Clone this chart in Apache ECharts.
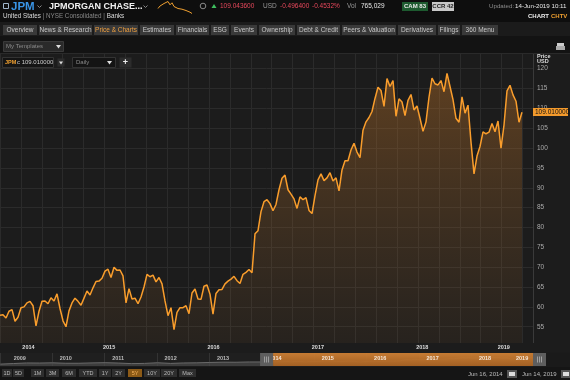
<!DOCTYPE html>
<html><head><meta charset="utf-8">
<script src="https://cdn.jsdelivr.net/npm/echarts@6/dist/echarts.min.js"></script>
<style>html,body{margin:0;padding:0;background:#1c1c1c;overflow:hidden}#c{width:570px;height:380px;}</style>
</head><body><div id="c"></div>
<script>
const FONT = '"Liberation Sans", Arial, Helvetica, sans-serif';

// ---------- DATA ----------
const startYear = 2014.455;   // Jun 16, 2014
const endYear = 2019.455;     // Jun 14, 2019
const prices = [
57.9, 58.0, 57.2, 58.9, 59.3, 56.4, 57.4, 59.8, 60.0, 61.0,
61.4, 60.3, 55.2, 58.9, 61.4, 61.5, 60.8, 62.3, 61.5, 63.3,
59.6, 56.5, 55.0, 59.0, 61.0, 62.2, 61.4, 60.4, 62.2, 64.0,
63.0, 64.8, 66.4, 66.5, 67.2, 69.0, 69.5, 67.4, 70.0, 69.2,
69.3, 67.8, 61.0, 64.6, 62.0, 62.2, 60.8, 62.5, 65.0, 68.2,
67.6, 68.0, 66.3, 67.4, 65.8, 61.5, 57.8, 59.8, 54.3, 58.6,
59.8, 59.8, 60.3, 58.3, 63.5, 64.5, 62.0, 61.9, 65.2, 65.5,
63.2, 58.2, 63.4, 64.3, 64.4, 65.8, 66.5, 67.0, 67.7, 66.6,
65.9, 68.2, 68.7, 69.4, 68.6, 78.4, 79.2, 84.0, 86.5, 87.0,
86.0, 84.2, 85.8, 89.5, 92.4, 93.2, 89.5, 88.4, 87.2, 84.8,
87.7, 87.0, 87.5, 84.3, 83.5, 88.0, 92.0, 93.5, 91.8, 92.5,
93.8, 91.7, 92.5, 89.2, 94.5, 96.8, 96.8, 99.5, 101.2, 99.0,
97.6, 104.5, 106.6, 107.7, 109.2, 112.5, 115.3, 114.5, 110.5, 117.5,
115.5, 117.0, 108.0, 112.4, 111.6, 108.2, 112.0, 113.5, 109.6, 110.6,
107.5, 104.2, 106.6, 112.8, 117.6, 116.2, 115.9, 117.0, 114.2, 118.8,
115.5, 112.2, 107.5, 106.5, 112.9, 108.8, 110.8, 101.5, 93.5, 98.0,
100.4, 104.1, 103.6, 104.0, 106.2, 104.1, 106.8, 100.0, 105.8, 114.4,
115.8, 113.4, 111.8, 106.5, 109.01
];
const lastPriceText = '109.010000';
const yearLabels = [2014, 2015, 2016, 2017, 2018, 2019];

const navYears  = [2009.25, 2009.5, 2009.75, 2010.0, 2010.25, 2010.5, 2010.75, 2011.0, 2011.25, 2011.5, 2011.75, 2012.0, 2012.25, 2012.5, 2012.75, 2013.0, 2013.25, 2013.5, 2013.75, 2014.0, 2014.25, 2014.45];
const navValues = [26, 34, 42, 41, 44, 38, 38, 43, 46, 41, 33, 36, 45, 36, 42, 44, 49, 53, 52, 56, 56, 58];
const navYearLabels = [2009, 2010, 2011, 2012, 2013, 2014, 2015, 2016, 2017, 2018, 2019];

const sparkValues = [109.35, 109.60, 109.50, 109.85, 109.70, 110.05, 109.72, 109.92, 109.55, 109.70, 109.35, 109.52, 109.28, 109.40, 109.15, 109.25, 108.98, 108.85];

const tabs = [['Overview',3,37],['News & Research',39,92],['Price & Charts',94,138],['Estimates',140,174],['Financials',176,209],['ESG',211,229],['Events',231,257],['Ownership',259,295],['Debt & Credit',297,340],['Peers & Valuation',342,396],['Derivatives',398,436],['Filings',438,460],['360 Menu',462,498]];
const rangeButtons = [['1D',2,12],['5D',13,24],['1M',31,44],['3M',46,59],['6M',62,76],['YTD',79,97],['1Y',99,111],['2Y',112,125],['5Y',128,142],['10Y',144,160],['20Y',161,177],['Max',179,196]];

// ---------- CHART ----------
const step = (endYear - startYear) / (prices.length - 1);
const mainData = prices.map((v, i) => [startYear + i * step, v]);
const mainMax = startYear + (533 / 522) * (endYear - startYear);
const navData = navYears.map((y, i) => [y, navValues[i]]).concat(mainData);
const navMin = 2009.244, navMax = navMin + 533 / 52.4;

const chart = echarts.init(document.getElementById('c'), null, {renderer: 'canvas'});
const grid = '#2b2b2b';
chart.setOption({
  animation: false,
  backgroundColor: '#1c1c1c',
  grid: [
    {left: 0, right: 37, top: 48.8, height: 297.8},
    {left: 0, right: 37, top: 353, height: 13, show: true, backgroundColor: '#1f1f1f', borderWidth: 0},
    {left: 158, top: 1.5, width: 34, height: 12}
  ],
  xAxis: [
    {type: 'value', gridIndex: 0, min: startYear, max: mainMax, show: false},
    {type: 'value', gridIndex: 0, min: 4.2, max: 537.2, interval: 20.9, position: 'top',
     axisLine: {show: false}, axisTick: {show: false}, axisLabel: {show: false},
     splitLine: {show: true, lineStyle: {color: grid, width: 1}}},
    {type: 'value', gridIndex: 1, min: navMin, max: navMax, interval: 1,
     axisLine: {show: false}, axisTick: {show: false}, axisLabel: {show: false},
     splitLine: {show: true, lineStyle: {color: '#333', width: 1}}},
    {type: 'category', gridIndex: 2, show: false, boundaryGap: false, data: sparkValues.map((v, i) => i)}
  ],
  yAxis: [
    {type: 'value', gridIndex: 0, position: 'right', min: 50, max: 125, interval: 5,
     axisLine: {show: true, lineStyle: {color: '#3a3a3a'}}, axisTick: {show: false},
     axisLabel: {color: '#aaaaaa', fontSize: 6.5, fontFamily: FONT, margin: 4, showMinLabel: false, showMaxLabel: false},
     splitLine: {show: true, lineStyle: {color: grid, width: 1}}},
    {type: 'value', gridIndex: 1, min: 0, max: 180, show: false},
    {type: 'value', gridIndex: 2, show: false, min: 'dataMin', max: 'dataMax'}
  ],
  series: [
    {type: 'line', xAxisIndex: 0, yAxisIndex: 0, data: mainData, symbol: 'none', z: 5,
     lineStyle: {color: '#f99d2c', width: 1.5},
     areaStyle: {color: {type: 'linear', x: 0, y: 0, x2: 0, y2: 1, colorStops: [
       {offset: 0, color: 'rgba(200,120,40,0.55)'}, {offset: 1, color: 'rgba(150,100,50,0.12)'}]}}},
    {type: 'line', xAxisIndex: 2, yAxisIndex: 1, data: navData, symbol: 'none',
     lineStyle: {color: '#6a6a6a', width: 1}, areaStyle: {color: '#4a4a4a'}},
    {type: 'line', xAxisIndex: 3, yAxisIndex: 2, data: sparkValues, symbol: 'none', z: 5,
     lineStyle: {color: '#f0a030', width: 1}}
  ]
});

// ---------- CHROME ----------
function R(x, y, w, h, fill, stroke, z) {
  return {type: 'rect', silent: true, z: z || 100, shape: {x, y, width: w, height: h},
    style: {fill: fill, stroke: stroke || null, lineWidth: stroke ? 1 : 0}};
}
function T(x, y, text, fill, size, o) {
  return {type: 'text', silent: true, z: 102, x, y,
    style: Object.assign({text: String(text), fill, fontSize: size, fontFamily: FONT, align: 'left', verticalAlign: 'middle'}, o || {})};
}
function P(points, fill, z) { return {type: 'polygon', silent: true, z: z || 102, shape: {points}, style: {fill}}; }
function L(x1, y1, x2, y2, stroke, z) { return {type: 'line', silent: true, z: z || 101, shape: {x1, y1, x2, y2}, style: {stroke, lineWidth: 1}}; }

const g = [];
// header (background below the sparkline series)
g.push(R(0, 0, 570, 22, '#0e0e0e', null, 1));
g.push(R(3.5, 3.5, 5, 5, null, '#9fb4c8'));
g.push(T(11, 6.5, 'JPM', '#3a95e6', 11.5, {fontWeight: 'bold'}));
g.push({type: 'polyline', z: 102, silent: true, shape: {points: [[37.5, 5.5], [39.5, 7.5], [41.5, 5.5]]}, style: {stroke: '#888', lineWidth: 1, fill: null}});
g.push(T(49, 6.5, 'JPMORGAN CHASE...', '#f2f2f2', 9, {fontWeight: 'bold'}));
g.push({type: 'polyline', z: 102, silent: true, shape: {points: [[143.5, 5.5], [145.5, 7.5], [147.5, 5.5]]}, style: {stroke: '#888', lineWidth: 1, fill: null}});
g.push({type: 'circle', z: 102, silent: true, shape: {cx: 203, cy: 6, r: 2.8}, style: {stroke: '#888', fill: null, lineWidth: 1}});
g.push(P([[211.5, 8], [214, 4], [216.5, 8]], '#3fbf5f'));
g.push(T(220, 6.5, '109.043600', '#e8485c', 6.5));
g.push(T(263, 6.5, 'USD', '#999', 6.5));
g.push(T(280, 6.5, '-0.496400', '#e8485c', 6.5));
g.push(T(312, 6.5, '-0.4532%', '#e8485c', 6.5));
g.push(T(347, 6.5, 'Vol', '#999', 6.5));
g.push(T(361, 6.5, '765,029', '#e8e8e8', 6.5));
g.push(R(402, 2, 26, 9, '#1d5a2f'));
g.push(T(415, 6.5, 'CAM 83', '#e8e8e8', 6, {fontWeight: 'bold', align: 'center'}));
g.push(R(432, 2, 22, 9, '#c8c8c8'));
g.push(T(443, 6.5, 'CCR 42', '#222', 6, {fontWeight: 'bold', align: 'center'}));
g.push(T(489, 6.5, 'Updated:', '#8c8c8c', 6.2));
g.push(T(515, 6.5, '14-Jun-2019 10:11', '#e8e8e8', 6.2));
g.push({type: 'text', silent: true, z: 102, x: 3, y: 16,
  style: {text: '{w|United States} {g|| NYSE Consolidated |} {w|Banks}', fontSize: 6.3, fontFamily: FONT, verticalAlign: 'middle', fill: '#ddd',
    rich: {w: {fill: '#dddddd', fontSize: 6.3, fontFamily: FONT}, g: {fill: '#888888', fontSize: 6.3, fontFamily: FONT}}}});
g.push(T(528, 16, 'CHART', '#eeeeee', 6, {fontWeight: 'bold'}));
g.push(T(551, 16, 'CHTV', '#f0a030', 6, {fontWeight: 'bold'}));
// tabs
g.push(R(0, 22, 570, 14, '#1b1b1b', null, 99));
tabs.forEach(t => {
  g.push(R(t[1], 25, t[2] - t[1], 10, '#393939'));
  g.push(T((t[1] + t[2]) / 2, 30.5, t[0], t[0] === 'Price & Charts' ? '#f0a040' : '#c8c8c8', 6.5, {align: 'center'}));
});
// templates row
g.push(R(0, 36, 570, 18, '#131313', null, 99));
g.push(L(0, 53.5, 570, 53.5, '#2a2a2a'));
g.push(R(3.5, 41.5, 60, 10, '#2a2a2a', '#3a3a3a'));
g.push(T(6, 46.5, 'My Templates', '#8a8a8a', 6));
g.push(P([[56, 45], [61, 45], [58.5, 48.5]], '#dddddd'));
g.push(R(557, 43, 7, 4, '#cccccc'));
g.push(R(556, 46, 9, 4, '#aaaaaa'));
// chart toolbar overlay
g.push(R(2.5, 57.5, 51, 10, '#141414', '#333'));
g.push(T(5, 62.5, 'JPM', '#f0a030', 5.5, {fontWeight: 'bold'}));
g.push(T(17, 62.5, 'c 109.010000', '#cccccc', 6));
g.push(R(57.5, 58.5, 7, 8, '#2c2c2c'));
g.push(P([[59, 61.5], [63, 61.5], [61, 64.5]], '#dddddd'));
g.push(R(72.5, 57.5, 43, 10, '#141414', '#333'));
g.push(T(76, 62.5, 'Daily', '#8a8a8a', 6));
g.push(P([[107, 61], [112, 61], [109.5, 64.5]], '#dddddd'));
g.push(R(119.5, 57.5, 12, 10, '#2c2c2c'));
g.push(T(125.5, 62.5, '+', '#eeeeee', 9, {fontWeight: 'bold', align: 'center'}));
// right axis header
g.push(T(537, 56, 'Price', '#dddddd', 5.5, {fontWeight: 'bold'}));
g.push(T(537, 61.3, 'USD', '#dddddd', 5.5, {fontWeight: 'bold'}));
// bottom time-label band
g.push(R(0, 343, 570, 9.5, '#1c1c1c', null, 99));
// nav right part
g.push(R(533, 352.5, 37, 14.5, '#1a1a1a', null, 99));
// bottom row
g.push(R(0, 367, 570, 13, '#151515', null, 99));
rangeButtons.forEach(b => {
  const on = b[0] === '5Y';
  g.push(R(b[1], 369, b[2] - b[1], 8, on ? '#8c5a16' : '#2e2e2e'));
  g.push(T((b[1] + b[2]) / 2, 373.5, b[0], on ? '#f3b15a' : '#bbbbbb', 5.5, {align: 'center'}));
});
g.push(T(468, 374, 'Jun 16, 2014', '#bbbbbb', 6));
g.push(R(507, 370, 10, 8, '#555555'));
g.push(R(509, 372, 6, 4, '#dddddd'));
g.push(T(522, 374, 'Jun 14, 2019', '#bbbbbb', 6));
g.push(R(561, 370, 9, 8, '#555555'));
g.push(R(563, 372, 6, 4, '#dddddd'));

// data-driven positions
const xMain = v => chart.convertToPixel({xAxisIndex: 0}, v);
const xNav = v => chart.convertToPixel({xAxisIndex: 2}, v);
const yMain = v => chart.convertToPixel({yAxisIndex: 0}, v);
yearLabels.forEach(y => {
  const a = Math.max(y, startYear), b = Math.min(y + 1, mainMax);
  g.push(T(xMain((a + b) / 2), 347.5, y, '#dddddd', 5.5, {fontWeight: 'bold', align: 'center'}));
});
// price label
const py = yMain(prices[prices.length - 1]);
g.push(R(533, Math.round(py) - 4, 35, 8, '#f39a2c', null, 103));
g.push({type: 'text', silent: true, z: 104, x: 535, y: py,
  style: {text: lastPriceText, fill: '#111', fontSize: 6.5, fontFamily: FONT, verticalAlign: 'middle'}});
// navigator selection
const selX = xNav(startYear), selEnd = 533;
g.push({type: 'rect', silent: true, z: 100, shape: {x: selX, y: 353, width: selEnd - selX, height: 13},
  style: {fill: {type: 'linear', x: 0, y: 0, x2: 0, y2: 1, colorStops: [{offset: 0, color: 'rgba(206,128,52,0.95)'}, {offset: 1, color: 'rgba(168,98,34,0.95)'}]}}});
navYearLabels.forEach(y => {
  const a = Math.max(y, navMin), b = Math.min(y + 1, navMax);
  const x = xNav((a + b) / 2);
  g.push(T(x, 358.5, y, x > selX ? '#f5e6d6' : '#bbbbbb', 5.5, {fontWeight: 'bold', align: 'center'}));
});
[[selX - 13, 'L'], [selEnd, 'R']].forEach(h => {
  g.push(R(h[0], 353, 13, 13, '#5e5e5e', null, 103));
  [4.5, 6.5, 8.5].forEach(dx => g.push(L(h[0] + dx, 356.5, h[0] + dx, 362.5, '#a0a0a0', 104)));
});

chart.setOption({graphic: {elements: g}});
</script>
</body></html>
